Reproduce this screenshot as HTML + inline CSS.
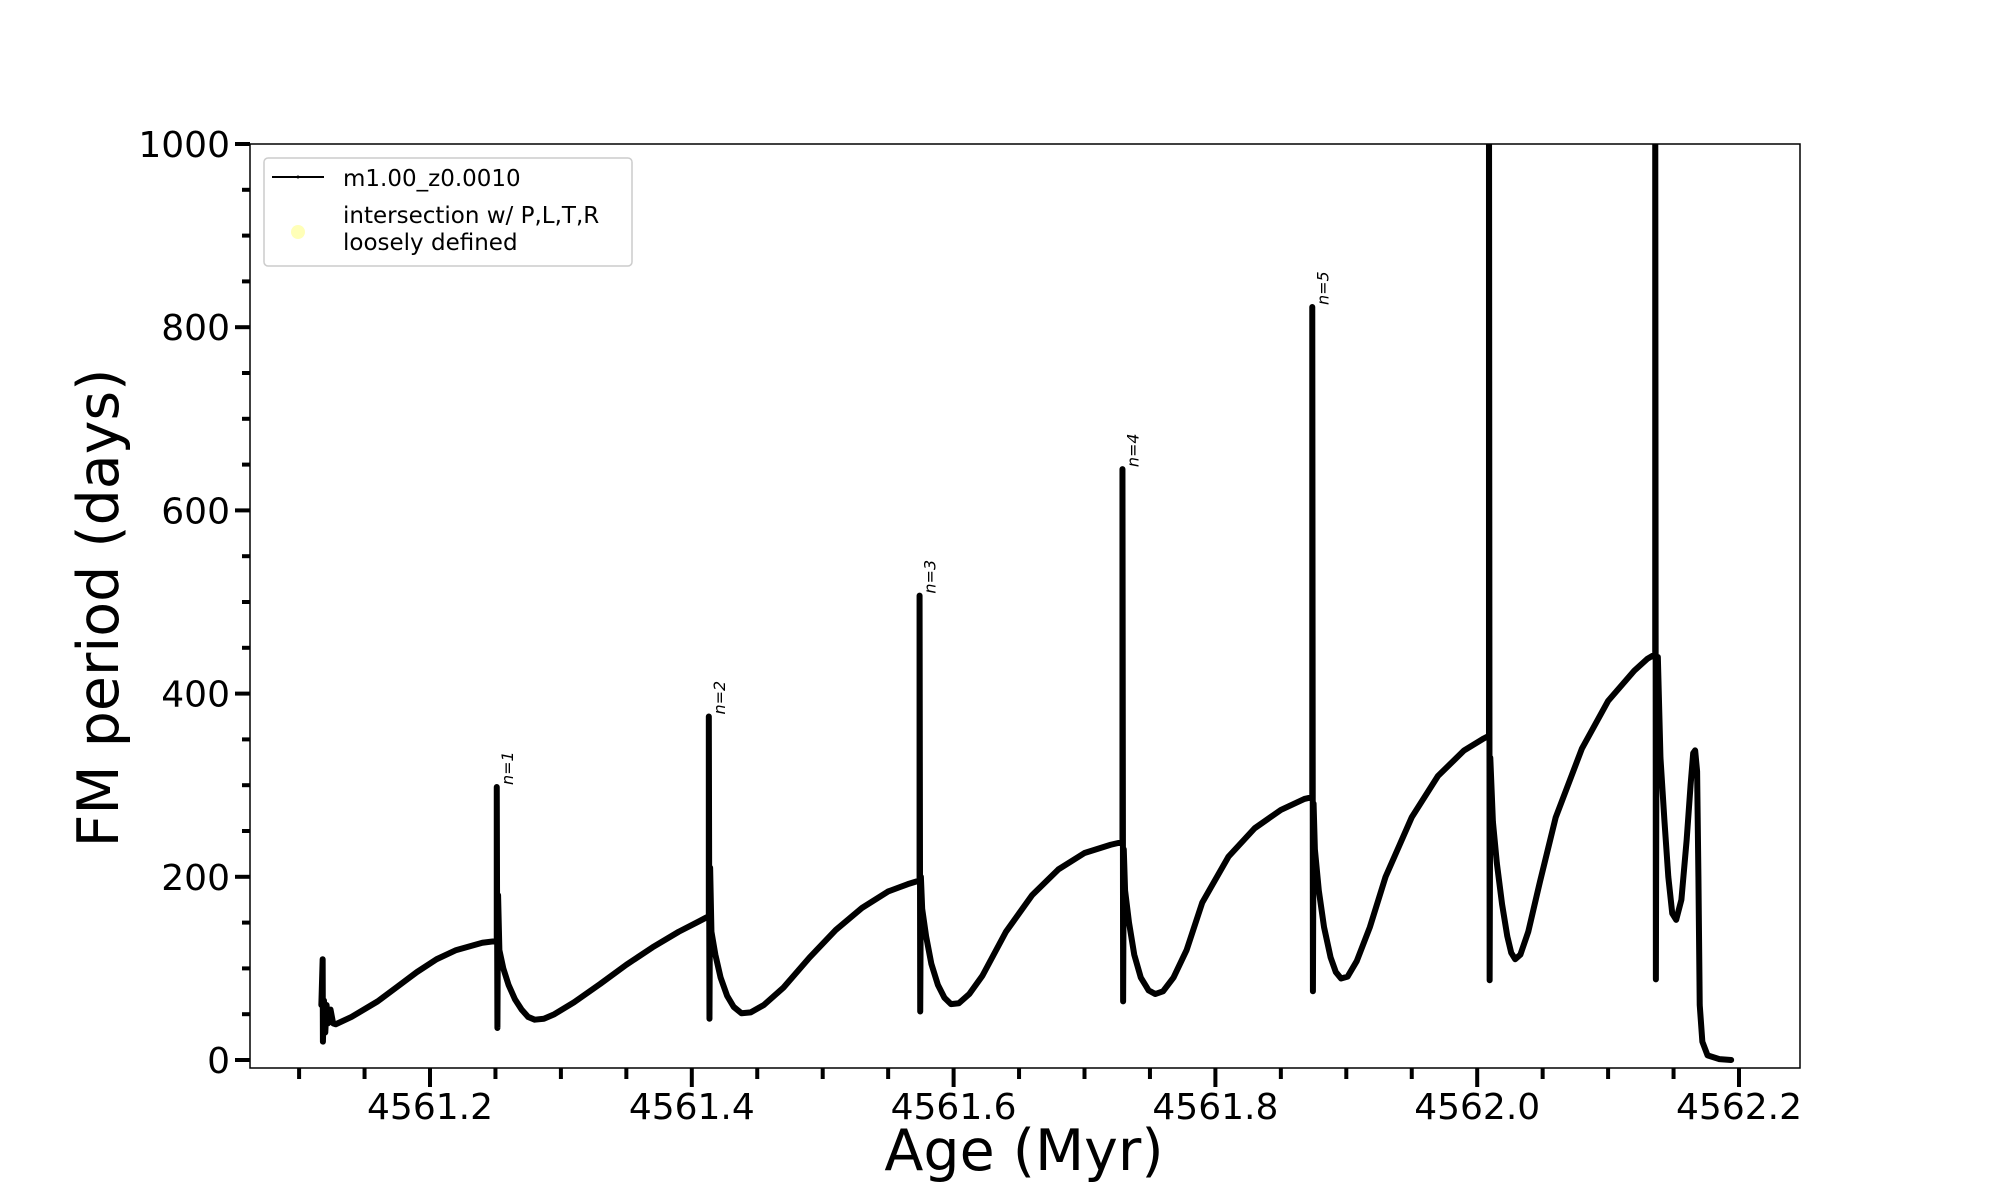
<!DOCTYPE html>
<html><head><meta charset="utf-8"><style>
html,body{margin:0;padding:0;background:#fff;}
svg{display:block;font-family:"DejaVu Sans","Liberation Sans",sans-serif;}
</style></head><body>
<svg id="chart" width="2000" height="1200" viewBox="0 0 2000 1200">
<defs><clipPath id="plotclip"><rect x="250" y="144" width="1550" height="924"/></clipPath></defs>
<rect x="0" y="0" width="2000" height="1200" fill="#fff"/>
<g id="grid-marks" clip-path="url(#plotclip)"></g>
<rect x="250" y="144" width="1550" height="924" fill="none" stroke="#000" stroke-width="1.5"/>
<g id="xaxis"></g>
<g id="yaxis"></g>
<text x="1024" y="1170" font-size="57" text-anchor="middle">Age (Myr)</text>
<text transform="translate(118,608) rotate(-90)" font-size="57" text-anchor="middle">FM period (days)</text>
<g>
<rect x="264" y="158" width="368" height="108" rx="4" fill="#fff" stroke="#ccc" stroke-width="1.5"/>
<line x1="272" y1="177" x2="324" y2="177" stroke="#000" stroke-width="2"/>
<circle cx="298" cy="177" r="1.5" fill="#000"/>
<text x="343" y="186" font-size="23">m1.00_z0.0010</text>
<circle cx="298" cy="232" r="7" fill="#ffffb8"/>
<text x="343" y="223" font-size="23">intersection w/ P,L,T,R</text>
<text x="343" y="250" font-size="23">loosely defined</text>
</g>
</svg>
<script>
const ages = [4561.117,4561.118,4561.1182,4561.119,4561.12,4561.121,4561.122,4561.124,4561.126,4561.128,4561.14,4561.16,4561.175,4561.19,4561.205,4561.22,4561.24,
4561.251,4561.251,4561.2515,4561.252,4561.253,4561.256,4561.26,4561.265,4561.27,4561.275,4561.28,4561.287,4561.295,4561.31,4561.33,4561.35,4561.37,4561.39,4561.405,
4561.413,4561.413,4561.4135,4561.414,4561.415,4561.418,4561.422,4561.427,4561.432,4561.438,4561.445,4561.455,4561.47,4561.49,4561.51,4561.53,4561.55,4561.565,
4561.574,4561.574,4561.5745,4561.575,4561.576,4561.579,4561.583,4561.588,4561.593,4561.598,4561.604,4561.612,4561.622,4561.64,4561.66,4561.68,4561.70,4561.72,
4561.729,4561.729,4561.7295,4561.730,4561.731,4561.734,4561.738,4561.743,4561.749,4561.754,4561.76,4561.768,4561.778,4561.79,4561.81,4561.83,4561.85,4561.868,
4561.874,4561.874,4561.8745,4561.875,4561.876,4561.879,4561.883,4561.888,4561.892,4561.896,4561.901,4561.908,4561.918,4561.93,4561.95,4561.97,4561.99,4562.005,
4562.009,4562.009,4562.0095,4562.010,4562.012,4562.015,4562.019,4562.023,4562.026,4562.029,4562.033,4562.039,4562.048,4562.06,4562.08,4562.10,4562.12,4562.13,
4562.136,4562.136,4562.1365,4562.137,4562.138,4562.140,4562.143,4562.146,4562.149,4562.152,4562.156,4562.16,4562.163,4562.165,4562.1665,4562.168,4562.169,4562.170,4562.172,4562.176,4562.185,4562.194];
const periods = [60,110,20,65,30,60,40,55,40,39,47,64,80,96,110,120,128,
130,298,35,180,120,100,82,66,55,47,44,45,50,63,83,104,123,140,151,
157,375,45,210,140,115,90,70,58,51,52,60,79,112,142,166,184,192,
196,507,53,200,165,135,105,82,68,61,62,72,92,140,180,208,226,235,
238,645,64,230,185,150,115,90,76,72,75,90,120,172,222,253,273,285,
287,822,75,280,230,185,145,112,96,89,91,108,145,200,265,310,338,351,
354,1100,87,330,260,215,170,135,117,110,115,140,195,265,340,392,425,438,
443,1100,88,380,440,330,262,200,160,153,175,240,300,335,338,315,200,60,20,5,1,0,0];
const xTicks = [4561.2,4561.4,4561.6,4561.8,4562.0,4562.2];
const yTicks = [0,200,400,600,800,1000];
const spikeAges = [4561.251,4561.413,4561.574,4561.729,4561.874];
const spikePeaks = [298,375,507,645,822];
const spikeLabels = ["n=1","n=2","n=3","n=4","n=5"];

const NS="http://www.w3.org/2000/svg";
function X(v){return 430+(v-4561.2)*1309;}
function Y(v){return 1060-v*0.916;}
function mk(tag,attrs,parent){const e=document.createElementNS(NS,tag);for(const k in attrs)e.setAttribute(k,attrs[k]);parent.appendChild(e);return e;}

const plot=document.getElementById('grid-marks');
let d='';
for(let i=0;i<ages.length;i++){d+=(i?'L':'M')+X(ages[i]).toFixed(2)+' '+Y(periods[i]).toFixed(2);}
const path=mk('path',{d:d,fill:'none',stroke:'#000','stroke-width':6,'stroke-linejoin':'round','stroke-linecap':'round'},plot);



const svg=document.getElementById('chart');
for(let i=0;i<spikeAges.length;i++){
  const x=X(spikeAges[i])+16, y=Y(spikePeaks[i])-2;
  const t=mk('text',{transform:`translate(${x},${y}) rotate(-90)`,'font-size':16,'font-style':'italic'},svg);
  t.textContent=spikeLabels[i];
  
  
}

const xa=document.getElementById('xaxis');
for(let v=4561.1;v<=4562.201;v+=0.05){
  const major=xTicks.some(t=>Math.abs(t-v)<1e-6);
  const l=mk('line',{x1:X(v),x2:X(v),y1:1068,y2:major?1087:1079,stroke:'#000','stroke-width':4},xa);
  
  
}
xTicks.forEach(v=>{
  const t=mk('text',{x:X(v),y:1119,'font-size':36,'text-anchor':'middle'},xa);
  t.textContent=v.toFixed(1);
  
  
});
const ya=document.getElementById('yaxis');
for(let v=0;v<=1000;v+=50){
  const major=yTicks.indexOf(v)>=0;
  const l=mk('line',{x1:major?235:242,x2:250,y1:Y(v),y2:Y(v),stroke:'#000','stroke-width':4},ya);
  
  
}
yTicks.forEach(v=>{
  const t=mk('text',{x:230,y:Y(v)+13,'font-size':36,'text-anchor':'end'},ya);
  t.textContent=String(v);
  
  
});
</script>
</body></html>
